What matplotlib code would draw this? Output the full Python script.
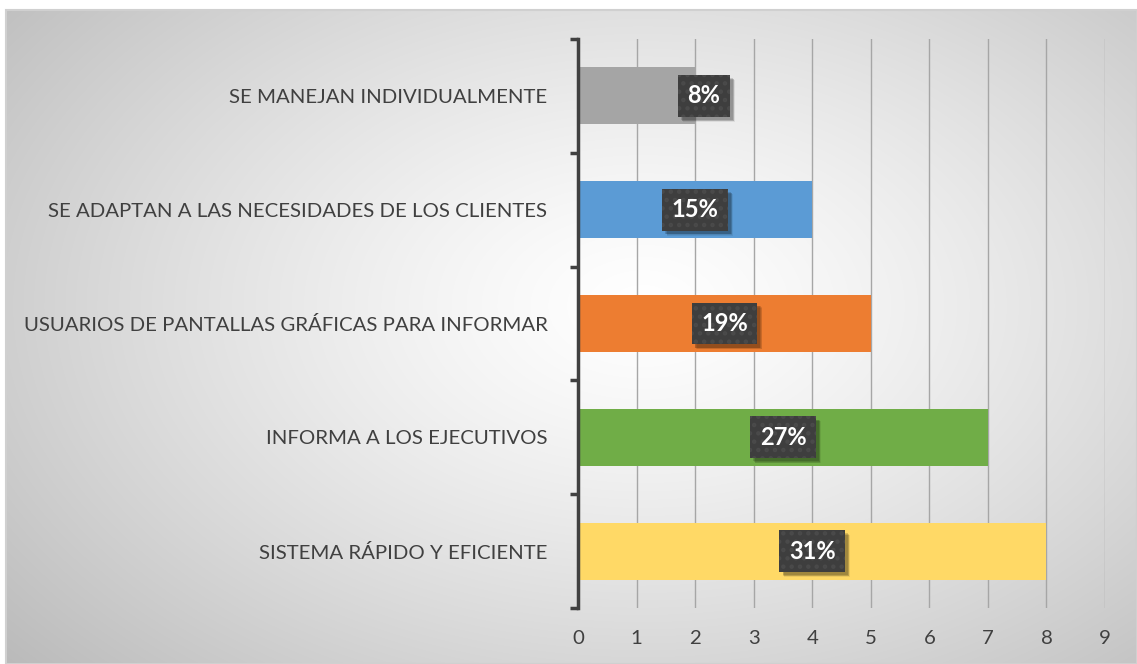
import numpy as np
import matplotlib
matplotlib.use("Agg")
import matplotlib.pyplot as plt
from matplotlib.patches import Rectangle

# datos (de abajo hacia arriba)
categorias = ["SISTEMA RÁPIDO Y EFICIENTE",
              "INFORMA A LOS EJECUTIVOS",
              "USUARIOS DE PANTALLAS GRÁFICAS PARA INFORMAR",
              "SE ADAPTAN A LAS NECESIDADES DE LOS CLIENTES",
              "SE MANEJAN INDIVIDUALMENTE"]
valores = [8, 7, 5, 4, 2]
etiquetas = ["31%", "27%", "19%", "15%", "8%"]
colores = ["#FFD966", "#70AD47", "#ED7D31", "#5B9BD5", "#A5A5A5"]

# posicion horizontal de cada etiqueta (movidas a mano en el original)
pos_etiqueta = [4.0, 3.5, 2.5, 2.0, 2.15]

plt.rcParams['font.family'] = ['Lato', 'DejaVu Sans']
plt.rcParams['hatch.linewidth'] = 2.0

fig = plt.figure(figsize=(11.37, 6.64), dpi=100)

# fondo con degradado radial
bg = fig.add_axes([0, 0, 1, 1], zorder=-10)
bg.set_xlim(0, 1137)
bg.set_ylim(664, 0)
bg.axis('off')
yy, xx = np.mgrid[0:664, 0:1137]
d = np.sqrt(((xx - 640) / 800.0) ** 2 + ((yy - 300) / 520.0) ** 2)
d = np.clip(d / d.max(), 0, 1)
gris = 1.0 - 0.27 * d ** 1.3
img = np.dstack([gris, gris, gris])
bg.imshow(img, extent=[6, 1137, 664, 10], aspect='auto', zorder=0)
bg.add_patch(Rectangle((6, 10), 1131, 654, fill=False, edgecolor='#D0D0D0', linewidth=1.5, zorder=1))

ax = fig.add_axes([578 / 1137, 1 - 608 / 664, (1105 - 578) / 1137, (608 - 39) / 664])
ax.patch.set_alpha(0)

y = np.arange(len(categorias))
ax.barh(y, valores, height=0.5, color=colores, zorder=3)

ax.set_xlim(0, 9)
ax.set_ylim(-0.5, 4.5)

textos = []
for i in range(len(valores)):
    t = ax.text(pos_etiqueta[i], y[i], etiquetas[i], ha='center', va='center',
                color='white', fontsize=17, fontweight='bold', zorder=5,
                bbox=dict(boxstyle='square,pad=0.4', facecolor='#3E3E3E',
                          edgecolor='#4A4A4A', hatch='..', linewidth=0))
    textos.append(t)

# sombra suave detras de cada etiqueta
fig.canvas.draw()
inv = ax.transData.inverted()
for t in textos:
    bb = t.get_bbox_patch().get_window_extent()
    for k, a in [(5, 0.07), (4, 0.09), (3, 0.12), (2, 0.15)]:
        (x0, y0), (x1, y1) = inv.transform([(bb.x0 + 2 + k * 0.6, bb.y0 - 2 - k * 0.6),
                                            (bb.x1 + 2 + k * 0.6, bb.y1 - 2 - k * 0.6)])
        ax.add_patch(Rectangle((x0, y0), x1 - x0, y1 - y0, facecolor='black',
                               alpha=a, linewidth=0, zorder=4))

ax.set_xlim(0, 9)
ax.set_ylim(-0.5, 4.5)
ax.set_xticks(range(10))
ax.set_yticks(y)
ax.set_yticklabels(categorias)
ax.set_yticks(np.arange(-0.5, 5, 1), minor=True)

ax.grid(axis='x', color='#A6A6A6', linewidth=1, zorder=1)
ax.set_axisbelow(True)

for s in ['top', 'right', 'bottom']:
    ax.spines[s].set_visible(False)
ax.spines['left'].set_color('#404040')
ax.spines['left'].set_linewidth(2.5)
ax.spines['left'].set_zorder(4)

ax.tick_params(axis='y', which='major', length=0, pad=22, labelsize=14.7, labelcolor='#404040')
ax.tick_params(axis='y', which='minor', length=6, width=2.5, color='#404040')
ax.tick_params(axis='x', length=0, pad=16, labelsize=14.7, labelcolor='#404040')

fig.savefig("out.png", dpi=100)
